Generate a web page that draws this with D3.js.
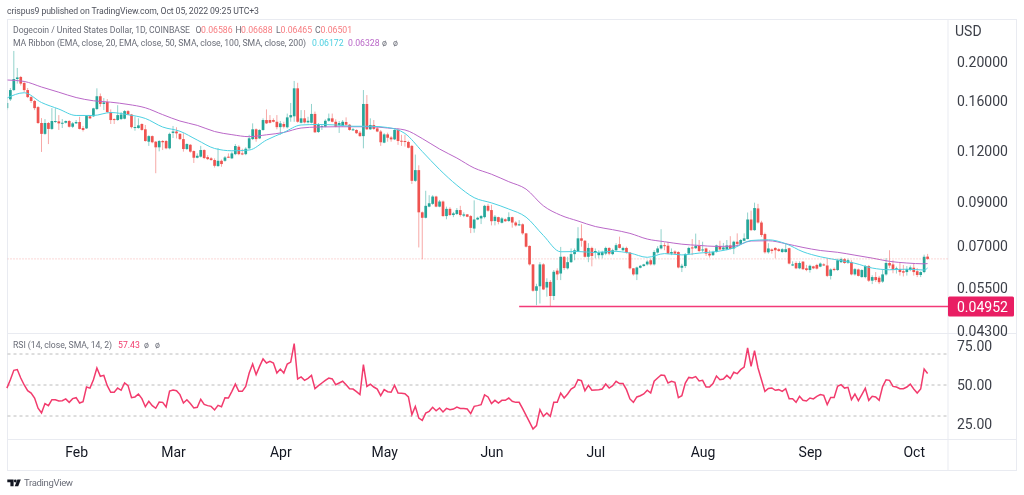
<!DOCTYPE html>
<html>
<head>
<meta charset="utf-8">
<script src="https://cdn.jsdelivr.net/npm/d3@7"></script>
<style>
    html, body { margin: 0; padding: 0; background: #fff; }
    svg { display: block; font-family: Roboto, sans-serif; filter: blur(0.3px); }
    .grey { fill: #50535e; font-size: 8.7px; }
    .axis text { fill: #3c3f48; font-size: 14px; font-family: Roboto, sans-serif; }
    .time text { fill: #131722; }
</style>
</head>
<body>
<script>
///////////////////////////////////////////////////////////////////////////////

// one candle per day, 2022-01-12 to 2022-10-05
const firstDay = Date.UTC(2022, 0, 12)

const opens = [
    .1537,.1616,.1704,.1815,.1836,.1774,.1704,.1637,.1601,.1546,
    .1412,.1327,.1412,.1365,.1420,.1425,.1409,.1414,.1428,.1382,
    .1409,.1420,.1372,.1369,.1467,.1467,.1529,.1645,.1574,.1592,
    .1503,.1444,.1436,.1444,.1447,.1511,.1482,.1372,.1372,.1404,
    .1362,.1269,.1310,.1269,.1229,.1274,.1274,.1222,.1334,.1345,
    .1327,.1288,.1217,.1247,.1203,.1158,.1165,.1210,.1162,.1154,
    .1143,.1104,.1138,.1138,.1165,.1154,.1182,.1233,.1187,.1182,
    .1222,.1288,.1362,.1293,.1357,.1436,.1436,.1436,.1422,.1379,
    .1404,.1378,.1458,.1467,.1721,.1414,.1450,.1417,.1414,.1487,
    .1341,.1382,.1382,.1430,.1450,.1422,.1396,.1388,.1420,.1398,
    .1357,.1357,.1336,.1310,.1574,.1362,.1396,.1369,.1345,.1262,
    .1323,.1300,.1286,.1357,.1276,.1274,.1267,.1239,.1015,.1079,
    .0848,.0822,.0876,.0890,.0928,.0876,.0902,.0830,.0865,.0835,
    .0840,.0859,.0832,.0838,.0830,.0773,.0814,.0819,.0825,.0880,
    .0859,.0807,.0825,.0799,.0815,.0807,.0825,.0800,.0787,.0792,
    .0752,.0700,.0630,.0542,.0556,.0630,.0552,.0570,.0526,.0608,
    .0598,.0658,.0616,.0638,.0668,.0680,.0731,.0721,.0658,.0692,
    .0674,.0664,.0664,.0670,.0692,.0668,.0683,.0707,.0683,.0692,
    .0674,.0616,.0595,.0618,.0624,.0630,.0645,.0630,.0674,.0690,
    .0703,.0701,.0670,.0678,.0676,.0618,.0624,.0670,.0694,.0691,
    .0700,.0683,.0690,.0670,.0664,.0676,.0700,.0686,.0686,.0702,
    .0690,.0717,.0708,.0721,.0728,.0814,.0766,.0867,.0800,.0749,
    .0675,.0686,.0692,.0687,.0676,.0676,.0691,.0626,.0635,.0616,
    .0640,.0616,.0610,.0623,.0628,.0622,.0630,.0626,.0590,.0614,
    .0610,.0638,.0649,.0636,.0638,.0595,.0612,.0586,.0586,.0624,
    .0574,.0586,.0584,.0571,.0595,.0635,.0630,.0612,.0614,.0606,
    .0603,.0610,.0618,.0606,.0593,.0603,.06586
]
const closes = [
    .1583,.1704,.1815,.1831,.1768,.1704,.1637,.1601,.1537,.1412,
    .1327,.1412,.1365,.1428,.1428,.1409,.1414,.1428,.1382,.1409,
    .1420,.1365,.1357,.1469,.1450,.1535,.1645,.1574,.1588,.1503,
    .1436,.1436,.1477,.1482,.1511,.1482,.1379,.1380,.1393,.1357,
    .1274,.1310,.1265,.1229,.1274,.1265,.1222,.1327,.1345,.1331,
    .1288,.1217,.1252,.1199,.1158,.1171,.1210,.1156,.1149,.1143,
    .1106,.1138,.1117,.1160,.1158,.1187,.1238,.1182,.1180,.1219,
    .1294,.1362,.1288,.1357,.1436,.1409,.1414,.1422,.1379,.1409,
    .1382,.1458,.1477,.1721,.1422,.1450,.1417,.1430,.1487,.1339,
    .1404,.1388,.1430,.1450,.1422,.1382,.1412,.1422,.1398,.1357,
    .1362,.1332,.1310,.1574,.1362,.1396,.1365,.1345,.1265,.1323,
    .1298,.1286,.1357,.1274,.1269,.1267,.1226,.1015,.1079,.0848,
    .0822,.0880,.0893,.0928,.0876,.0902,.0830,.0865,.0835,.0843,
    .0859,.0835,.0838,.0827,.0776,.0814,.0822,.0830,.0880,.0856,
    .0806,.0827,.0803,.0819,.0806,.0825,.0800,.0787,.0792,.0752,
    .0697,.0630,.0542,.0556,.0630,.0546,.0570,.0526,.0604,.0595,
    .0658,.0617,.0638,.0668,.0683,.0731,.0721,.0658,.0692,.0661,
    .0680,.0674,.0676,.0692,.0670,.0683,.0703,.0692,.0692,.0674,
    .0616,.0595,.0619,.0625,.0630,.0640,.0630,.0676,.0690,.0703,
    .0700,.0670,.0676,.0670,.0619,.0625,.0668,.0692,.0690,.0700,
    .0680,.0686,.0670,.0663,.0676,.0702,.0686,.0694,.0702,.0688,
    .0717,.0708,.0724,.0731,.0814,.0766,.0869,.0800,.0745,.0675,
    .0690,.0680,.0683,.0680,.0687,.0687,.0633,.0630,.0616,.0635,
    .0613,.0610,.0625,.0616,.0615,.0633,.0626,.0590,.0612,.0610,
    .0645,.0649,.0635,.0645,.0595,.0613,.0590,.0610,.0624,.0574,
    .0586,.0576,.0569,.0595,.0635,.0626,.0610,.0616,.0603,.0601,
    .0613,.0619,.0603,.0593,.0603,.0658,.06501
]
const highs = [
    .1637,.1724,.2130,.1933,.1847,.1795,.1724,.1647,.1610,.1555,
    .1452,.1444,.1420,.1537,.1537,.1477,.1444,.1432,.1436,.1420,
    .1436,.1463,.1388,.1477,.1477,.1540,.1721,.1671,.1628,.1619,
    .1526,.1450,.1563,.1503,.1520,.1520,.1487,.1463,.1450,.1409,
    .1396,.1317,.1315,.1274,.1281,.1281,.1281,.1336,.1388,.1378,
    .1332,.1332,.1257,.1252,.1207,.1187,.1239,.1215,.1175,.1162,
    .1154,.1224,.1146,.1169,.1187,.1199,.1252,.1243,.1219,.1229,
    .1320,.1409,.1369,.1362,.1450,.1526,.1477,.1450,.1477,.1428,
    .1422,.1490,.1583,.1795,.1776,.1520,.1520,.1463,.1574,.1507,
    .1412,.1396,.1442,.1490,.1490,.1442,.1428,.1436,.1458,.1404,
    .1372,.1362,.1349,.1704,.1656,.1450,.1436,.1382,.1357,.1332,
    .1336,.1310,.1362,.1369,.1320,.1320,.1276,.1246,.1179,.1109,
    .0852,.0959,.0935,.0935,.0932,.0910,.0907,.0876,.0873,.0850,
    .0869,.0880,.0848,.0840,.0835,.0908,.0827,.0835,.0885,.0890,
    .0885,.0835,.0827,.0825,.0819,.0848,.0827,.0806,.0811,.0796,
    .0754,.0702,.0631,.0564,.0638,.0634,.0582,.0576,.0610,.0616,
    .0696,.0660,.0658,.0690,.0690,.0779,.0792,.0724,.0711,.0697,
    .0690,.0683,.0681,.0697,.0695,.0689,.0711,.0738,.0697,.0697,
    .0676,.0617,.0622,.0628,.0632,.0645,.0651,.0683,.0699,.0770,
    .0714,.0716,.0690,.0683,.0679,.0632,.0672,.0697,.0728,.0751,
    .0724,.0717,.0693,.0683,.0681,.0705,.0721,.0712,.0724,.0740,
    .0721,.0752,.0728,.0752,.0847,.0856,.0896,.0890,.0808,.0755,
    .0711,.0690,.0695,.0691,.0691,.0712,.0693,.0641,.0641,.0641,
    .0642,.0628,.0629,.0625,.0632,.0637,.0634,.0651,.0616,.0619,
    .0651,.0655,.0653,.0651,.0645,.0617,.0615,.0613,.0628,.0628,
    .0592,.0603,.0590,.0610,.0653,.0683,.0645,.0622,.0638,.0628,
    .0624,.0626,.0634,.0617,.0606,.0666,.06688
]
const lows = [
    .1520,.1601,.1694,.1768,.1749,.1685,.1628,.1583,.1520,.1404,
    .1197,.1320,.1252,.1357,.1412,.1357,.1372,.1408,.1376,.1372,
    .1404,.1361,.1345,.1365,.1444,.1461,.1520,.1550,.1520,.1497,
    .1404,.1404,.1430,.1436,.1442,.1477,.1369,.1351,.1367,.1351,
    .1269,.1239,.1258,.1060,.1201,.1210,.1215,.1215,.1296,.1293,
    .1281,.1199,.1210,.1192,.1124,.1154,.1160,.1149,.1143,.1138,
    .1095,.1100,.1100,.1132,.1156,.1149,.1175,.1175,.1175,.1175,
    .1215,.1281,.1269,.1288,.1351,.1404,.1409,.1417,.1362,.1320,
    .1369,.1369,.1422,.1422,.1414,.1409,.1409,.1409,.1409,.1334,
    .1334,.1357,.1378,.1422,.1417,.1378,.1334,.1382,.1393,.1351,
    .1349,.1327,.1305,.1222,.1357,.1357,.1357,.1340,.1239,.1258,
    .1269,.1269,.1281,.1246,.1239,.1234,.1222,.0997,.1009,.0694,
    .0649,.0819,.0873,.0885,.0873,.0873,.0827,.0815,.0830,.0825,
    .0835,.0827,.0825,.0825,.0753,.0755,.0811,.0793,.0819,.0851,
    .0787,.0787,.0792,.0796,.0803,.0803,.0777,.0782,.0785,.0746,
    .0694,.0626,.0539,.0499,.0504,.0544,.0524,.0495,.0514,.0576,
    .0576,.0610,.0612,.0635,.0645,.0676,.0697,.0655,.0638,.0623,
    .0652,.0652,.0652,.0664,.0664,.0664,.0679,.0690,.0680,.0670,
    .0612,.0591,.0576,.0616,.0622,.0626,.0626,.0626,.0670,.0686,
    .0683,.0668,.0664,.0668,.0616,.0603,.0617,.0668,.0664,.0688,
    .0676,.0676,.0661,.0655,.0661,.0674,.0683,.0683,.0683,.0686,
    .0668,.0703,.0705,.0719,.0727,.0762,.0763,.0795,.0737,.0670,
    .0670,.0670,.0652,.0677,.0673,.0674,.0630,.0624,.0613,.0613,
    .0610,.0606,.0601,.0613,.0612,.0620,.0624,.0586,.0578,.0606,
    .0607,.0635,.0632,.0632,.0592,.0591,.0588,.0584,.0582,.0570,
    .0563,.0570,.0563,.0567,.0591,.0617,.0599,.0598,.0591,.0588,
    .0591,.0606,.0591,.0586,.0586,.0599,.06465
]

const ribbonDays = [
    0,5,10,15,20,25,30,35,40,45,50,55,60,65,70,75,80,85,90,95,100,105,110,115,120,125,130,
    135,140,145,150,155,160,165,170,175,180,185,190,195,200,205,210,215,220,225,230,235,
    240,245,250,255,260,265,266
]
const ema20 = [
    .1628,.1678,.1587,.1529,.1474,.1474,.1499,.1480,.1449,.1380,.1347,.1281,.1221,.1205,
    .1210,.1281,.1338,.1396,.1400,.1396,.1386,.1386,.1376,.1330,.1200,.1083,.0990,.0922,
    .0895,.0864,.0825,.0743,.0677,.0678,.0674,.0679,.0672,.0656,.0670,.0665,.0672,.0678,
    .0692,.0722,.0725,.0709,.0677,.0658,.0646,.0634,.0617,.0611,.0613,.0610,.06172
]
const ema50 = [
    .1805,.1790,.1734,.1683,.1633,.1603,.1590,.1570,.1540,.1481,.1428,.1393,.1345,.1321,
    .1306,.1320,.1338,.1372,.1380,.1382,.1382,.1382,.1372,.1357,.1292,.1217,.1156,.1092,
    .1054,.1010,.0968,.0880,.0834,.0807,.0782,.0768,.0752,.0728,.0717,.0707,.0702,.0698,
    .0699,.0720,.0721,.0709,.0694,.0682,.0675,.0664,.0653,.0641,.0635,.0632,.06328
]

const rsi = [
    48,53.4,59.5,60,54.5,50,46.3,44.8,41.6,35,32,38,36.7,40.5,40.5,39.7,39.9,41,38.8,41.2,
    41.8,38.4,39.3,48.7,48,53.4,61,55.6,56.2,49.6,45.3,45.3,48,46.6,51.3,49.6,41.8,42.3,44.2,41.2,
    36,39.5,36.7,35,39,38.8,35.8,46.1,46.8,46.3,43.8,38.4,40.5,38,35.2,35.6,40.8,37.5,36.7,36.2,
    33.9,36.9,36,41.8,41.6,45.9,50.6,45.9,45.9,49.1,57.7,63.5,56.7,62,66.8,64.2,65.3,64.2,57.7,60.3,
    57.7,63.5,64.8,76.7,53.9,55.2,53,54.3,56.2,47.6,49.6,51.3,53,54.5,53.9,50.2,51.3,52.4,50.2,47.6,
    47.4,45.7,43.8,63.1,49.1,50.6,48.7,47.4,43.1,47,45.7,45.3,49.8,44.8,44.6,44.4,42.3,30.9,36.2,28.7,
    27.2,31.9,33,35.6,33.4,35.2,32.6,34.9,34.1,34.5,35.8,34.9,34.9,34.5,31.5,36.2,36.7,37.3,43.6,42.3,
    38,40.1,38.4,40.1,40.1,41.6,39.5,38.8,38.8,34.7,30.4,26.1,21.6,23.8,34.1,29.8,31.9,29.8,38.8,38.8,
    44.8,41.6,44.2,47.4,48.7,53.4,52.8,46.3,49.8,46.6,46.8,47,47.4,50.6,48,49.6,52.4,50.9,50.9,47,
    41,38.8,42.3,43.1,44.2,46.6,44.8,52.4,54.5,56.5,56.2,51.3,52.4,51.7,41.8,43.1,51.3,54.9,54.5,55.4,
    52.6,53,48.7,48.7,50.9,55.8,53.4,53.9,56.2,54.1,58.2,57.3,59.9,61.6,73.9,62,72.1,61,53.4,45.9,
    47.8,48.1,46.6,47,45.9,47.6,41.2,41.2,38.8,42.7,40.1,39.7,41.6,41,42.7,43.8,43.3,37.3,42,42,
    49.1,50.2,48,48.5,40.5,44.2,39.9,43.8,47.9,40.1,42.7,42.3,40.1,49,53.4,53,49.1,48.7,47.6,47.6,
    48.7,50.6,47.4,44.8,47.4,60.3,57.43
]

const priceTicks = [0.2, 0.16, 0.12, 0.09, 0.07, 0.055, 0.043]
const rsiTicks = [75, 50, 25]
const rsiBands = [70, 50, 30]
const monthTicks = [1, 2, 3, 4, 5, 6, 7, 8, 9].map(m => new Date(Date.UTC(2022, m, 1)))

const supportLevel = 0.04952
const supportStart = 148 // candle the drawn line starts from

///////////////////////////////////////////////////////////////////////////////

const width = 1024
const height = 495
const paneLeft = 7.5
const paneRight = 948
const paneTop = 19.5
const paneSplit = 333.5
const rsiBottom = 439.5
const frameRight = 1016.5
const frameBottom = 470.5

const upColor = '#26a69a'
const downColor = '#ef5350'
const rsiColor = '#f23b6d'
const supportColor = '#f23a78'

const dayToDate = i => new Date(firstDay + i * 864e5)

const x = d3.scaleUtc()
    .domain([dayToDate(0), dayToDate(opens.length - 1)])
    .range([6.9, 927.6])

const y = d3.scaleLog()
    .domain([0.2, 0.043])
    .range([62, 331.3])

const yRsi = d3.scaleLinear()
    .domain([70, 30])
    .range([354, 416])

///////////////////////////////////////////////////////////////////////////////

const svg = d3.select('body').append('svg')
    .attr('width', width)
    .attr('height', height)

svg.append('defs').append('clipPath')
    .attr('id', 'pane-clip')
    .append('rect')
        .attr('x', paneLeft)
        .attr('y', paneTop)
        .attr('width', paneRight - paneLeft)
        .attr('height', paneSplit - paneTop)

// frame
const frame = svg.append('g')
    .attr('fill', 'none')
    .attr('stroke', '#e9ebf1')

frame.append('rect')
    .attr('x', paneLeft)
    .attr('y', paneTop)
    .attr('width', frameRight - paneLeft)
    .attr('height', frameBottom - paneTop)

frame.append('path')
    .attr('d', `M${paneLeft},${paneSplit}H${frameRight}M${paneLeft},${rsiBottom}H${frameRight}M${paneRight},${paneTop}V${frameBottom}`)

// candles
const candleGroup = svg.append('g')
    .attr('clip-path', 'url(#pane-clip)')

const candles = candleGroup.selectAll('g')
    .data(opens.map((open, i) => ({ i, open, close: closes[i], high: highs[i], low: lows[i] })))
    .join('g')
        .attr('fill', d => d.close >= d.open ? upColor : downColor)
        .attr('stroke', d => d.close >= d.open ? upColor : downColor)

candles.append('line')
    .attr('x1', d => x(dayToDate(d.i)))
    .attr('x2', d => x(dayToDate(d.i)))
    .attr('y1', d => y(d.high))
    .attr('y2', d => y(d.low))
    .attr('stroke-width', 1)
    .attr('stroke-opacity', 0.5)

candles.append('rect')
    .attr('x', d => x(dayToDate(d.i)) - 1.35)
    .attr('width', 2.7)
    .attr('y', d => Math.min(y(d.open), y(d.close)))
    .attr('height', d => Math.max(1, Math.abs(y(d.open) - y(d.close))))
    .attr('stroke', 'none')

// moving averages
const ribbonLine = d3.line()
    .x(d => x(dayToDate(d.day)))
    .y(d => y(d.value))
    .curve(d3.curveMonotoneX)

const ribbons = [
    { values: ema50, color: '#ba68c8' },
    { values: ema20, color: '#4dd0e1' }
]

candleGroup.selectAll('.ribbon')
    .data(ribbons)
    .join('path')
        .attr('class', 'ribbon')
        .attr('fill', 'none')
        .attr('stroke', d => d.color)
        .attr('stroke-width', 1)
        .attr('d', d => ribbonLine(d.values.map((value, k) => ({ day: ribbonDays[k], value }))))

// last close and drawn support
candleGroup.append('line')
    .attr('x1', paneLeft)
    .attr('x2', paneRight)
    .attr('y1', y(closes[closes.length - 1]))
    .attr('y2', y(closes[closes.length - 1]))
    .attr('stroke', downColor)
    .attr('stroke-opacity', 0.45)
    .attr('stroke-dasharray', '1 2')

candleGroup.append('line')
    .attr('x1', x(dayToDate(supportStart)))
    .attr('x2', paneRight)
    .attr('y1', y(supportLevel))
    .attr('y2', y(supportLevel))
    .attr('stroke', supportColor)
    .attr('stroke-width', 1.6)

// price axis
svg.append('g')
    .attr('class', 'axis')
    .attr('transform', `translate(${paneRight},0)`)
    .call(d3.axisRight(y).tickValues(priceTicks).tickFormat(d3.format('.5f')).tickSize(0).tickPadding(9))
    .call(g => g.select('.domain').remove())

svg.append('text')
    .attr('x', 955)
    .attr('y', 36)
    .attr('fill', '#3c3f48')
    .attr('font-size', 14)
    .text('USD')

svg.append('rect')
    .attr('x', paneRight)
    .attr('y', y(supportLevel) - 10)
    .attr('width', 66)
    .attr('height', 20)
    .attr('rx', 1.5)
    .attr('fill', '#e91e63')

svg.append('text')
    .attr('x', paneRight + 9)
    .attr('y', y(supportLevel) + 5)
    .attr('fill', '#fff')
    .attr('font-size', 14)
    .text(d3.format('.5f')(supportLevel))

// rsi pane
svg.append('g')
    .selectAll('line')
    .data(rsiBands)
    .join('line')
        .attr('x1', paneLeft)
        .attr('x2', paneRight)
        .attr('y1', d => yRsi(d))
        .attr('y2', d => yRsi(d))
        .attr('stroke', '#bcbcbc')
        .attr('stroke-dasharray', '3 3')

svg.append('path')
    .attr('fill', 'none')
    .attr('stroke', rsiColor)
    .attr('stroke-width', 1.5)
    .attr('d', d3.line()
        .x((d, i) => x(dayToDate(i)))
        .y(d => yRsi(d))(rsi))

svg.append('g')
    .attr('class', 'axis')
    .attr('transform', `translate(${paneRight},0)`)
    .call(d3.axisRight(yRsi).tickValues(rsiTicks).tickFormat(d3.format('.2f')).tickSize(0).tickPadding(9))
    .call(g => g.select('.domain').remove())

// time axis
svg.append('g')
    .attr('class', 'axis time')
    .attr('transform', `translate(0,${rsiBottom})`)
    .call(d3.axisBottom(x).tickValues(monthTicks).tickFormat(d3.utcFormat('%b')).tickSize(0).tickPadding(8))
    .call(g => g.select('.domain').remove())

///////////////////////////////////////////////////////////////////////////////

// texts
const fmt = d3.format('.5f')
const lastOpen = opens[opens.length - 1]
const lastHigh = highs[highs.length - 1]
const lastLow = lows[lows.length - 1]
const lastClose = closes[closes.length - 1]

const addText = (xPos, yPos, content, fill, fitWidth) => {
    const t = svg.append('text')
        .attr('class', 'grey')
        .attr('x', xPos)
        .attr('y', yPos)
        .style('fill', fill)
        .text(content)
    if (fitWidth) t.attr('textLength', fitWidth)
    return t
}

addText(7, 14, 'crispus9 published on TradingView.com, Oct 05, 2022 09:25 UTC+3', '#50535e', 252)
addText(13, 33, 'Dogecoin / United States Dollar, 1D, COINBASE', '#6a6d78', 177)
addText(195.5, 33, 'O', '#6a6d78')
addText(201, 33, fmt(lastOpen), '#f77c80')
addText(235.5, 33, 'H', '#6a6d78')
addText(241, 33, fmt(lastHigh), '#f77c80')
addText(276, 33, 'L', '#6a6d78')
addText(280.5, 33, fmt(lastLow), '#f77c80')
addText(315, 33, 'C', '#6a6d78')
addText(320.5, 33, fmt(lastClose), '#f77c80')

addText(13, 45.5, 'MA Ribbon (EMA, close, 20, EMA, close, 50, SMA, close, 100, SMA, close, 200)', '#6a6d78', 293)
addText(312, 45.5, fmt(ema20[ema20.length - 1]), '#4dd0e1')
addText(348, 45.5, fmt(ema50[ema50.length - 1]), '#ba68c8')
addText(382, 45.5, 'ø', '#6a6d78')
addText(393, 45.5, 'ø', '#6a6d78')

addText(13, 348, 'RSI (14, close, SMA, 14, 2)', '#6a6d78', 99)
addText(118, 348, d3.format('.2f')(rsi[rsi.length - 1]), rsiColor)
addText(144, 348, 'ø', '#6a6d78')
addText(155, 348, 'ø', '#6a6d78')

// logo
const logo = svg.append('g').attr('fill', '#131722')
logo.append('path').attr('d', 'M7.3 479.5H13.6V486.2H10.4V482.3H7.3Z')
logo.append('circle').attr('cx', 15.3).attr('cy', 481).attr('r', 1.4)
logo.append('path').attr('d', 'M17.4 479.5H20.8L18.2 486.2H14.7Z')

svg.append('text')
    .attr('x', 24)
    .attr('y', 486)
    .attr('fill', '#6a6d78')
    .attr('font-size', 9.5)
    .attr('textLength', 49)
    .text('TradingView')
</script>
</body>
</html>
